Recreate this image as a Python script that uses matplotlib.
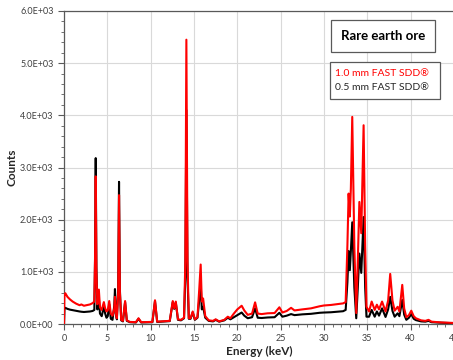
import matplotlib.pyplot as plt
from matplotlib.ticker import MultipleLocator, FormatStrFormatter

# values
energy = [0.00, 0.05, 0.15, 0.4, 0.7, 1.0, 1.4, 1.8, 2.0, 2.3, 2.6, 3.0, 3.3, 3.5,
          3.58, 3.66, 3.74, 3.85, 4.02, 4.15, 4.35, 4.6, 4.75, 4.9, 5.05, 5.22, 5.4,
          5.6, 5.8, 5.88, 5.98, 6.1, 6.25, 6.35, 6.45, 6.6, 6.8, 7.05, 7.25, 7.6,
          8.3, 8.6, 8.9, 10.2, 10.5, 10.75, 12.2, 12.55, 12.72, 12.9, 13.15, 13.5,
          13.85, 14.0, 14.12, 14.25, 14.4, 14.6, 14.85, 15.1, 15.4, 15.6, 15.77,
          15.9, 16.05, 16.3, 16.7, 17.2, 17.5, 17.9, 18.5, 18.9, 19.2, 19.6, 20.0,
          20.5, 20.8, 21.2, 21.7, 22.05, 22.35, 22.8, 23.5, 24.3, 24.85, 25.2, 25.7,
          26.2, 26.6, 27.5, 28.5, 29.5, 30.0, 30.8, 31.5, 32.2, 32.5, 32.7, 32.84,
          32.98, 33.1, 33.26, 33.5, 33.72, 33.9, 34.08, 34.3, 34.57, 34.75, 34.9,
          35.2, 35.5, 35.85, 36.1, 36.35, 36.7, 37.1, 37.4, 37.64, 37.9, 38.15,
          38.5, 38.7, 39.03, 39.25, 39.5, 39.8, 40.07, 40.35, 40.6, 41.2, 41.7,
          42.06, 42.4, 43.5, 45.0]
counts_10mm = [0, 560, 590, 520, 470, 430, 390, 360, 375, 350, 360, 375, 400, 430,
               1200, 2830, 1000, 380, 660, 320, 270, 420, 300, 240, 260, 440, 200,
               160, 300, 520, 200, 110, 600, 2470, 600, 80, 60, 440, 70, 40,
               35, 110, 35, 40, 455, 45, 60, 440, 300, 430, 90, 80,
               120, 1200, 5450, 1200, 110, 110, 240, 90, 130, 650, 1140,
               430, 490, 150, 70, 60, 90, 50, 80, 140, 110, 200, 280,
               350, 260, 175, 200, 415, 200, 190, 205, 210, 320, 220, 250,
               310, 260, 280, 300, 340, 355, 365, 380, 395, 420, 1500, 2500,
               2060, 2600, 3970, 1500, 210, 1200, 2340, 1740, 3810, 1500, 330,
               240, 430, 270, 370, 280, 430, 240, 450, 960, 450, 255,
               330, 240, 750, 300, 130, 170, 255, 150, 110, 70, 60,
               80, 45, 30, 20]
counts_05mm = [0, 300, 310, 290, 275, 265, 250, 240, 235, 230, 235, 240, 250, 270,
               1250, 3180, 1100, 280, 500, 200, 150, 330, 200, 120, 150, 380, 100,
               80, 350, 670, 200, 90, 650, 2725, 650, 70, 50, 420, 60, 35,
               30, 100, 30, 35, 440, 40, 55, 420, 290, 410, 80, 70,
               110, 900, 4100, 900, 100, 100, 220, 80, 120, 450, 780,
               280, 330, 120, 60, 50, 80, 45, 70, 120, 90, 130, 170,
               220, 160, 110, 130, 300, 120, 115, 125, 130, 215, 140, 160,
               190, 170, 185, 195, 215, 220, 225, 235, 245, 270, 800, 1400,
               1030, 1400, 1950, 700, 110, 700, 1350, 980, 2050, 700, 140,
               140, 270, 140, 240, 160, 300, 135, 280, 520, 250, 140,
               205, 150, 460, 180, 80, 120, 190, 100, 75, 50, 45,
               60, 35, 25, 15]

title_text = "Rare earth ore"
legend_labels = ["1.0 mm FAST SDD\u00ae", "0.5 mm FAST SDD\u00ae"]

plt.rcParams['font.family'] = ['Lato', 'DejaVu Sans']

fig = plt.figure(figsize=(4.53, 3.6), dpi=100)
ax = fig.add_axes([64 / 453, 36 / 360, 390 / 453, 313 / 360])

ax.plot(energy, counts_05mm, color='black', lw=1.5, zorder=3)
ax.plot(energy, counts_10mm, color='#ff0000', lw=1.5, zorder=4)

ax.set_xlim(0, 45)
ax.set_ylim(0, 6000)
ax.xaxis.set_major_locator(MultipleLocator(5))
ax.xaxis.set_minor_locator(MultipleLocator(1))
ax.yaxis.set_major_locator(MultipleLocator(1000))
ax.yaxis.set_minor_locator(MultipleLocator(200))
ax.yaxis.set_major_formatter(FormatStrFormatter('%.1E'))
ax.grid(True, which='major', color='#d9d9d9', lw=0.8, zorder=0)
ax.tick_params(which='both', colors='#595959', labelcolor='#404040', labelsize=6.5)
ax.tick_params(which='major', length=4)
ax.tick_params(which='minor', length=2.5)
for s in ax.spines.values():
    s.set_color('#595959')
    s.set_linewidth(0.9)

ax.set_xlabel('Energy (keV)', fontsize=8.5, fontweight='bold', color='#262626', labelpad=2)
ax.set_ylabel('Counts', fontsize=8.5, fontweight='bold', color='#262626', labelpad=2)

# title box and legend box
fig.text(383 / 453, 1 - 36 / 360, title_text, ha='center', va='center',
         fontsize=9.5, fontweight='bold', color='black',
         bbox=dict(boxstyle='square,pad=0.75', fc='white', ec='#595959', lw=0.9))
fig.patches.append(plt.Rectangle((330 / 453, 1 - 99 / 360), 110 / 453, 37 / 360,
                                 transform=fig.transFigure, fc='white', ec='#595959', lw=0.9))
fig.text(335 / 453, 1 - 73 / 360, legend_labels[0], ha='left', va='center',
         fontsize=7.5, color='#ff0000')
fig.text(335 / 453, 1 - 87 / 360, legend_labels[1], ha='left', va='center',
         fontsize=7.5, color='#262626')

fig.savefig('out.png', dpi=100)
